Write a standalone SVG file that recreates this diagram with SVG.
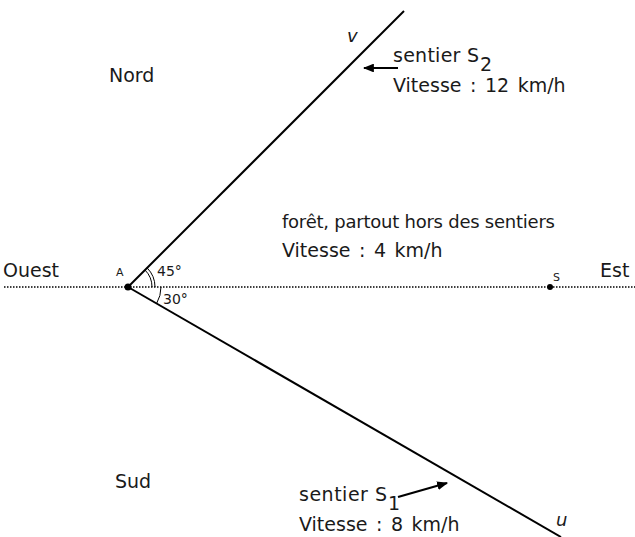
<svg xmlns="http://www.w3.org/2000/svg" width="635" height="537" viewBox="0 0 635 537">
<defs>
<style>
text{font-family:"DejaVu Sans","Liberation Sans",sans-serif;fill:#1a1a1a}
.lbl{font-size:19px}
.vit{font-size:19px;word-spacing:2.5px}
.for{font-size:18px}
.sm{font-size:11px}
.ang{font-size:14px}
.it{font-style:italic;font-size:18px}
.path{stroke:#000;stroke-width:2;fill:none}
.dot{stroke:#000;stroke-width:1.5;stroke-dasharray:1.5 1.5;fill:none}
.arc{stroke:#000;stroke-width:1;fill:none}
.arr{stroke:#000;stroke-width:2.2;fill:none}
</style>
<marker id="ah" viewBox="0 0 10 8" refX="9" refY="4" markerWidth="5" markerHeight="4" orient="auto" markerUnits="strokeWidth">
<path d="M0,0 L10,4 L0,8 Z" fill="#000"/>
</marker>
</defs>
<rect width="635" height="537" fill="#fff"/>
<g id="connectors">
<line id="axis" class="dot" x1="4" y1="287" x2="635" y2="287"/>
<line id="path-s2" class="path" x1="128" y1="287" x2="404" y2="11"/>
<line id="path-s1" class="path" x1="128" y1="287" x2="561" y2="537"/>
<path id="arc45a" class="arc" d="M152,287 A24,24 0 0 0 145,270"/>
<path id="arc45b" class="arc" d="M155,287 A27,27 0 0 0 147.1,267.9"/>
<path id="arc30" class="arc" d="M161,287 A33,33 0 0 1 156.6,303.5"/>
<line id="arrow-s2" class="arr" x1="398" y1="68" x2="364" y2="68" marker-end="url(#ah)"/>
<line id="arrow-s1" class="arr" x1="398" y1="497" x2="447" y2="483" marker-end="url(#ah)"/>
</g>
<g id="node-A">
<circle cx="128" cy="287" r="3.5" fill="#000"/>
<text class="sm" x="116" y="276">A</text>
<text class="ang" x="157" y="276">45°</text>
<text class="ang" x="163" y="304">30°</text>
</g>
<g id="node-S">
<circle cx="550" cy="287" r="3" fill="#000"/>
<text class="sm" x="553" y="281">S</text>
</g>
<g id="node-nord"><text class="lbl" x="109" y="82">Nord</text></g>
<g id="node-sud"><text class="lbl" x="115" y="488">Sud</text></g>
<g id="node-ouest"><text class="lbl" x="3" y="277">Ouest</text></g>
<g id="node-est"><text class="lbl" x="600" y="277">Est</text></g>
<g id="node-v"><text class="it" x="347" y="42">v</text></g>
<g id="node-u"><text class="it" x="556" y="526">u</text></g>
<g id="node-foret">
<text class="for" x="282" y="228" textLength="273">forêt, partout hors des sentiers</text>
<text class="vit" x="282" y="257">Vitesse : 4 km/h</text>
</g>
<g id="node-s2">
<text class="lbl" x="393" y="62" textLength="86">sentier S</text>
<text class="lbl" x="480" y="71">2</text>
<text class="vit" x="393" y="92">Vitesse : 12 km/h</text>
</g>
<g id="node-s1">
<text class="lbl" x="299" y="501" textLength="88">sentier S</text>
<text class="lbl" x="388" y="510">1</text>
<text class="vit" x="299" y="531">Vitesse : 8 km/h</text>
</g>
</svg>
